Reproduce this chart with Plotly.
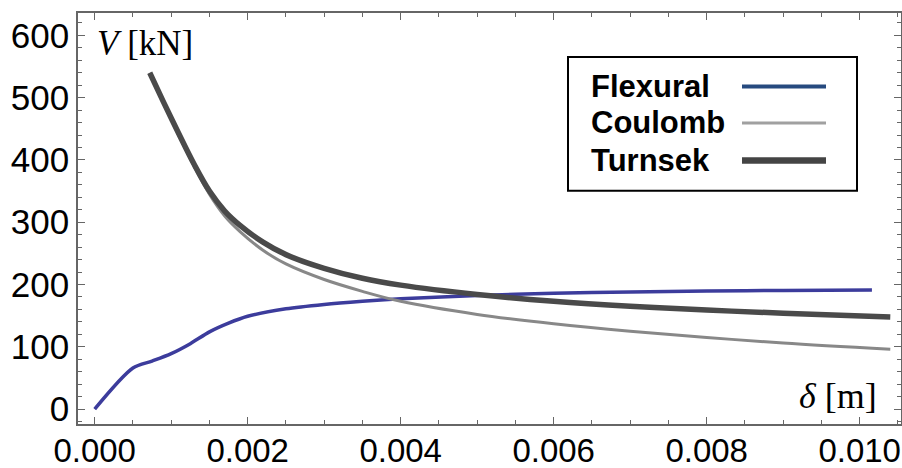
import plotly.graph_objects as go

# ---- data ----
flex_x = [0, 0.0005, 0.00075, 0.001, 0.00125, 0.0015, 0.00175, 0.002, 0.0025, 0.003,
          0.0035, 0.004, 0.005, 0.006, 0.007, 0.008, 0.009, 0.01016]
flex_y = [0, 66, 77, 89, 105, 124, 138, 149, 161, 168, 173, 177, 182.5, 186, 188, 189.5, 190.5, 191]

coul_x = [0.00072, 0.0009, 0.0011, 0.0013, 0.0015, 0.0017, 0.0019, 0.0022, 0.0025, 0.003,
          0.0035, 0.004, 0.005, 0.006, 0.007, 0.008, 0.009, 0.0104]
coul_y = [540, 492, 440, 390, 345, 310, 285, 255, 233, 208, 189, 173, 152, 137, 125, 115, 106, 96]

turn_x = [0.00072, 0.0009, 0.0011, 0.0013, 0.0015, 0.0017, 0.0019, 0.0022, 0.0025, 0.003,
          0.0035, 0.004, 0.005, 0.006, 0.007, 0.008, 0.009, 0.0104]
turn_y = [540, 493, 442, 393, 350, 318, 295, 268, 248, 226, 210, 199, 184, 173, 165, 159, 154, 148]

x_ticks = [0, 0.002, 0.004, 0.006, 0.008, 0.010]
y_ticks = [0, 100, 200, 300, 400, 500, 600]
legend_names = ["Flexural", "Coulomb", "Turnsek"]

W, H = 902, 468
L, R, T, B = 78, 901, 13, 424.3


def px(x):
    return (x - L) / (R - L)


def py(y):
    return (B - y) / (B - T)


fig = go.Figure()
fig.add_trace(go.Scatter(x=flex_x, y=flex_y, mode="lines", name="Flexural",
                         line=dict(color="#3c3c9c", width=3.5, shape="spline", smoothing=0.8)))
fig.add_trace(go.Scatter(x=coul_x, y=coul_y, mode="lines", name="Coulomb",
                         line=dict(color="#888888", width=3, shape="spline", smoothing=1.0)))
fig.add_trace(go.Scatter(x=turn_x, y=turn_y, mode="lines", name="Turnsek",
                         line=dict(color="#4a4a4a", width=5.5, shape="spline", smoothing=1.0)))

axis_common = dict(showline=True, linecolor="#666666", linewidth=1.5, mirror="ticks",
                   ticks="inside", tickcolor="#666666", tickwidth=1.2, ticklen=7,
                   showgrid=False, zeroline=False, automargin=False)

fig.update_xaxes(range=[-0.000218, 0.01054], tickvals=x_ticks, tickformat=".3f",
                 ticklabeloverflow="allow", ticklabelstandoff=-3,
                 tickfont=dict(family="Liberation Sans, Arial", size=33, color="black"),
                 minor=dict(dtick=0.0005, tick0=0, ticks="inside", ticklen=4,
                            tickcolor="#666666", tickwidth=1),
                 **axis_common)
fig.update_yaxes(range=[-24, 636], tickvals=y_ticks,
                 tickfont=dict(family="Liberation Sans, Arial", size=35, color="black"),
                 minor=dict(dtick=20, tick0=0, ticks="inside", ticklen=4,
                            tickcolor="#666666", tickwidth=1),
                 **axis_common)

# axis labels
fig.add_annotation(xref="paper", yref="paper", x=px(95), y=py(44), xanchor="left", yanchor="middle",
                   text="<i>V</i> [kN]", showarrow=False,
                   font=dict(family="Liberation Serif, Times New Roman", size=35, color="black"))
fig.add_annotation(xref="paper", yref="paper", x=px(879), y=py(396), xanchor="right", yanchor="middle",
                   text="<i>δ</i> [m]", showarrow=False,
                   font=dict(family="Liberation Serif, Times New Roman", size=36, color="black"))

# legend box (drawn manually: text left, line sample right)
fig.add_shape(type="rect", xref="paper", yref="paper", x0=px(568), x1=px(857), y0=py(191), y1=py(57),
              line=dict(color="black", width=2), fillcolor="white", layer="above")
leg_colors = ["#264a7f", "#a0a0a0", "#444444"]
leg_widths = [4, 3, 6.5]
leg_rows = [86.5, 123, 160.5]
for name, c, w, yy in zip(legend_names, leg_colors, leg_widths, leg_rows):
    fig.add_shape(type="line", xref="paper", yref="paper", x0=px(742), x1=px(826), y0=py(yy), y1=py(yy),
                  line=dict(color=c, width=w), layer="above")
    fig.add_annotation(xref="paper", yref="paper", x=px(589), y=py(yy), xanchor="left", yanchor="middle",
                       text="<b>%s</b>" % name, showarrow=False,
                       font=dict(family="Liberation Sans, Arial", size=31, color="black"))

fig.update_layout(width=W, height=H, showlegend=False,
                  plot_bgcolor="white", paper_bgcolor="white",
                  margin=dict(l=L, r=W - R, t=T, b=H - B, pad=0))

fig.write_html("out.html", config={"displayModeBar": False},
               post_script="document.body.style.margin='0px';")
